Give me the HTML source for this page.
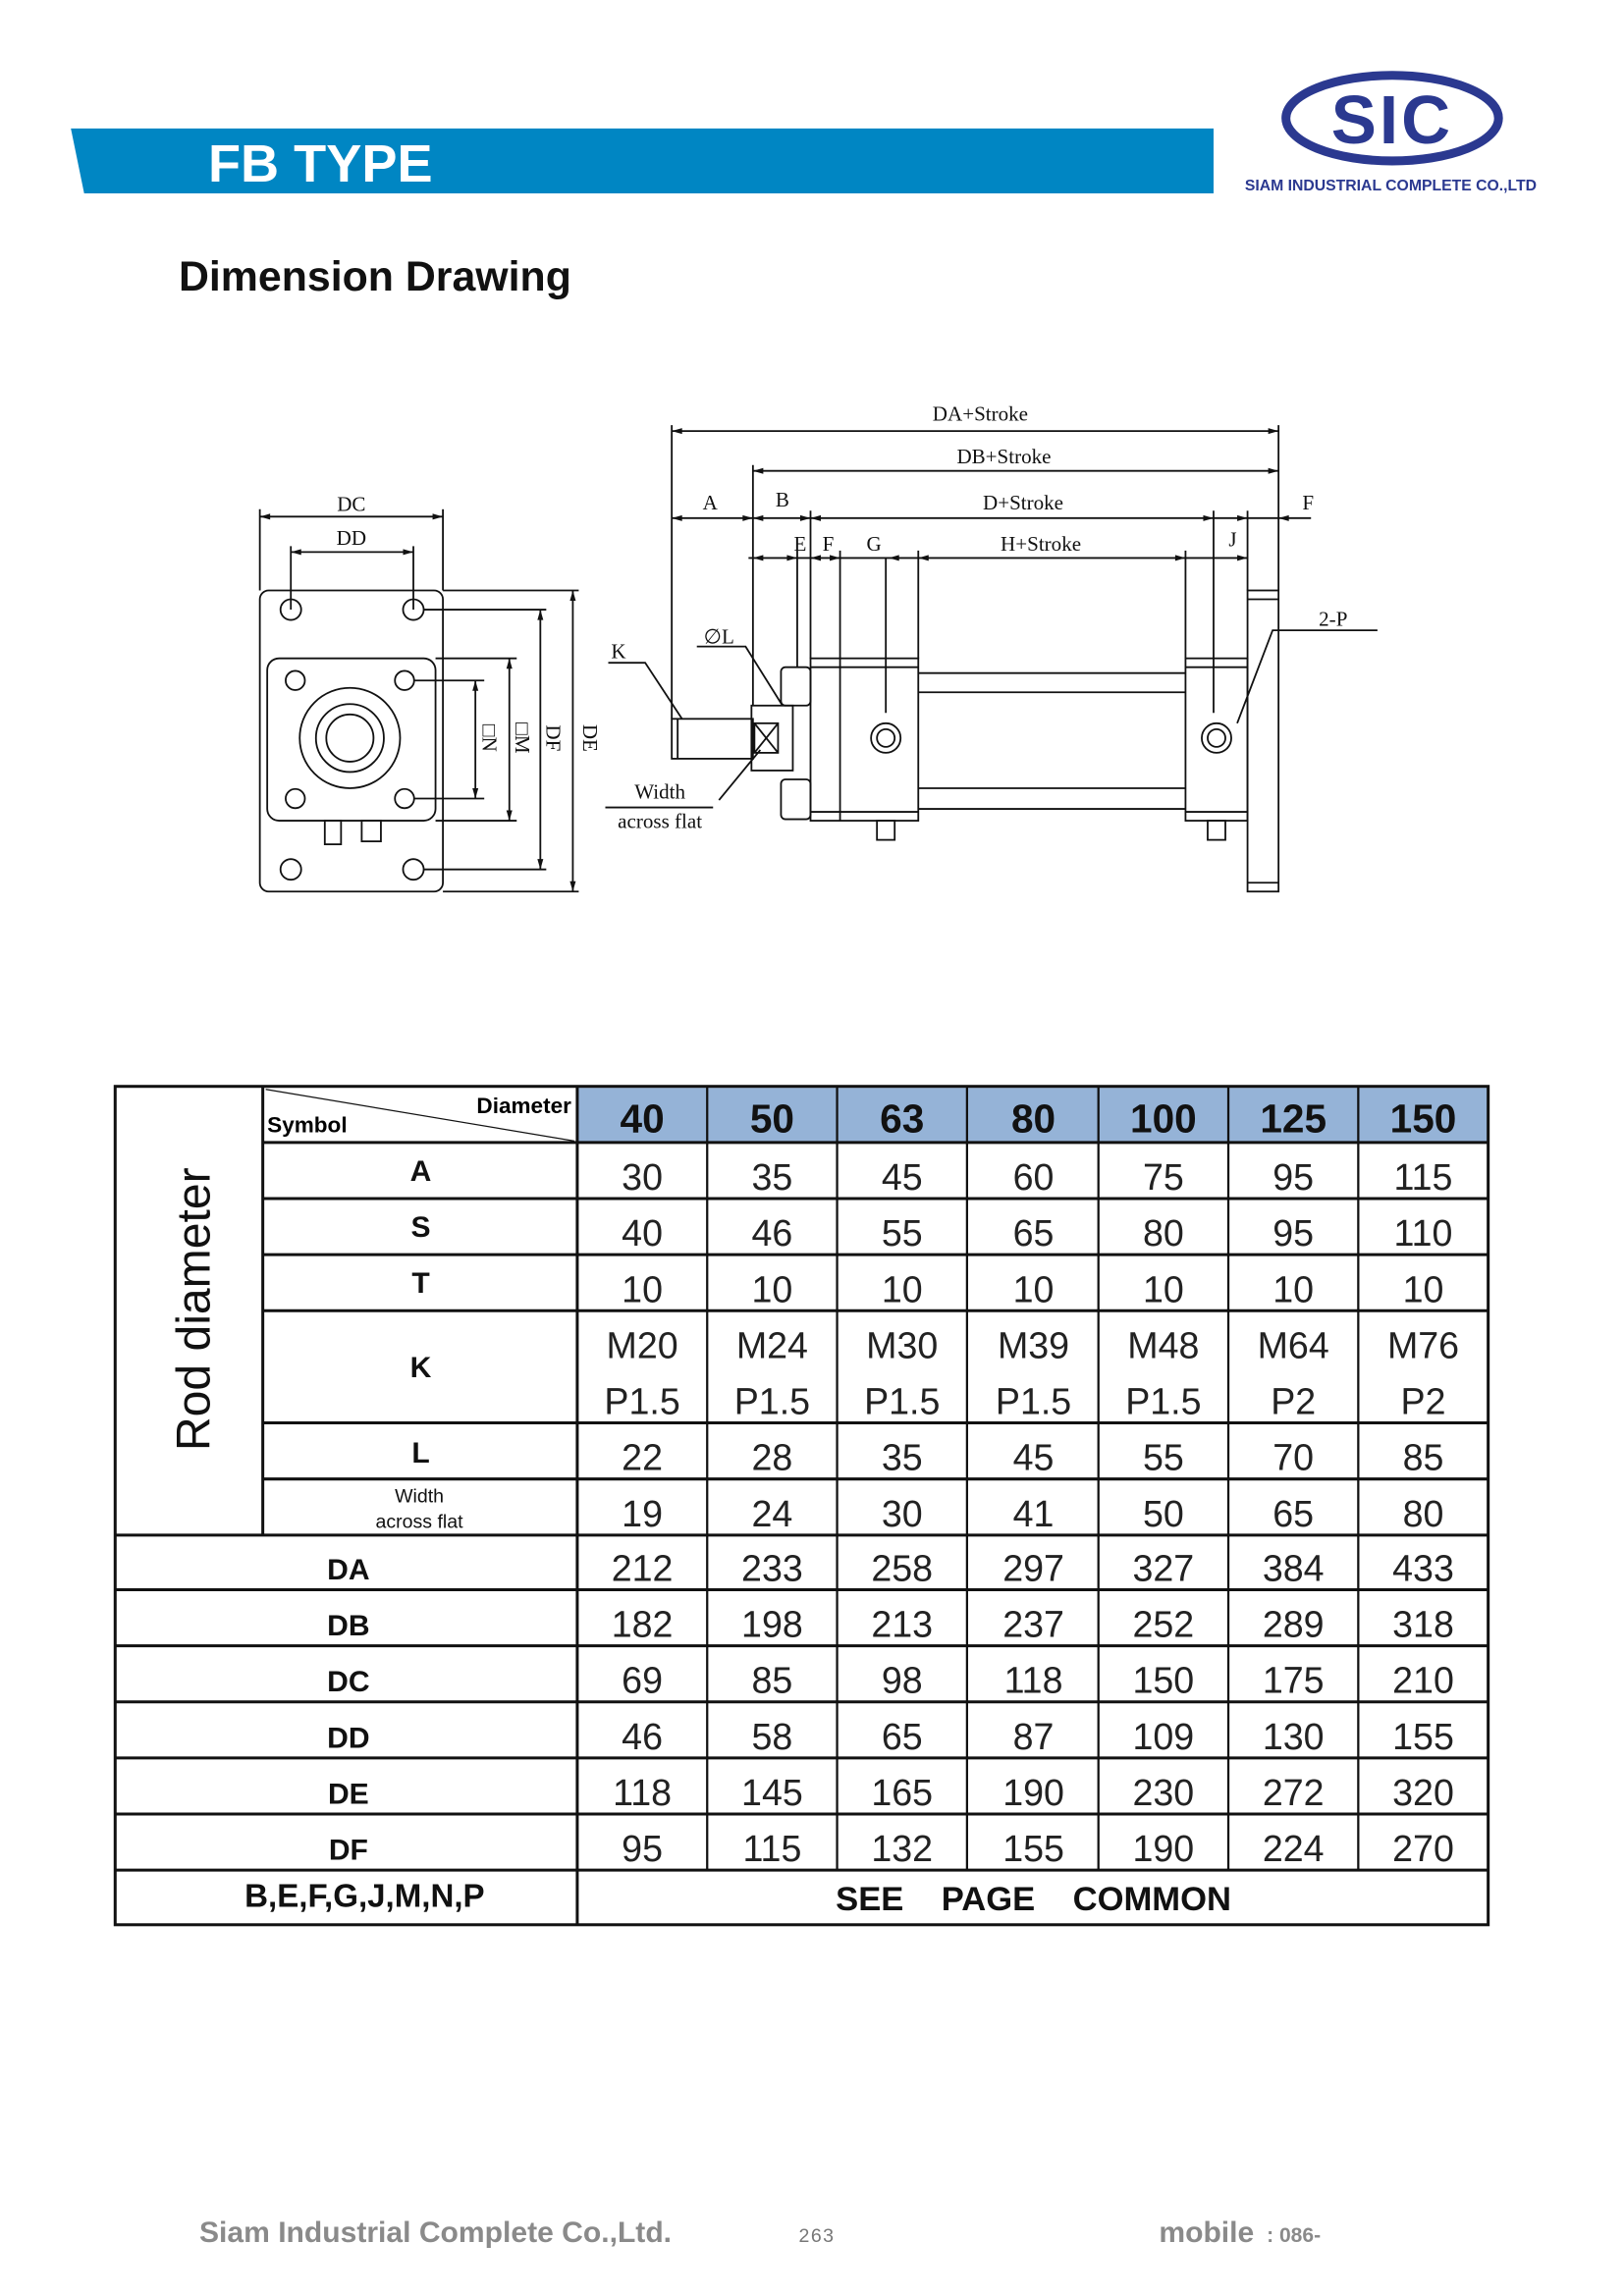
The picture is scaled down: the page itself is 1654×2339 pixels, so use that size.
<!DOCTYPE html>
<html><head><meta charset="utf-8"><style>
html,body{margin:0;padding:0;background:#fff}
svg{display:block}
.s{font-family:"Liberation Serif",serif;font-size:14px;fill:#111}
.v{font-family:"Liberation Sans Narrow","Liberation Sans",sans-serif;font-size:25px;fill:#222;text-anchor:middle}
.h{font-family:"Liberation Sans",sans-serif;font-weight:bold;font-size:20px;fill:#111;text-anchor:middle}
.hd{font-family:"Liberation Sans",sans-serif;font-weight:bold;font-size:27px;fill:#111;text-anchor:middle}
</style></head><body>
<svg width="1654" height="2339" viewBox="0 0 1100 1555.5" xmlns="http://www.w3.org/2000/svg">
<!-- header -->
<polygon points="48,87 822,87 822,131 57,131" fill="#0086c3"/>
<text x="141" y="123" font-family="Liberation Sans Narrow,Liberation Sans,sans-serif" font-weight="bold" font-size="36" fill="#fff">FB TYPE</text>
<ellipse cx="943" cy="80" rx="72" ry="29" fill="none" stroke="#2b3990" stroke-width="6"/>
<text x="943" y="97" text-anchor="middle" font-family="Liberation Sans,sans-serif" font-weight="bold" font-size="46" fill="#2b3990" letter-spacing="2">SIC</text>
<text x="942" y="129" text-anchor="middle" font-family="Liberation Sans Narrow,Liberation Sans,sans-serif" font-weight="bold" font-size="10.5" fill="#2b3990">SIAM INDUSTRIAL COMPLETE CO.,LTD</text>
<text x="121" y="197" font-family="Liberation Sans,sans-serif" font-weight="bold" font-size="28.5" fill="#111">Dimension  Drawing</text>

<!-- drawing -->
<g stroke="#111" stroke-width="1.2" fill="none">
<rect x="176" y="400" width="124" height="204" rx="6"/>
<circle cx="197" cy="413" r="7"/><circle cx="280" cy="413" r="7"/>
<circle cx="197" cy="589" r="7"/><circle cx="280" cy="589" r="7"/>
<rect x="181" y="446" width="114" height="110" rx="8"/>
<circle cx="200" cy="461" r="6.5"/><circle cx="274" cy="461" r="6.5"/>
<circle cx="200" cy="541" r="6.5"/><circle cx="274" cy="541" r="6.5"/>
<circle cx="237" cy="500" r="34"/><circle cx="237" cy="500" r="23"/><circle cx="237" cy="500" r="16"/>
<rect x="220" y="556" width="11" height="16"/><rect x="245" y="556" width="13" height="14"/>
<line x1="176" y1="345" x2="176" y2="400"/><line x1="300" y1="345" x2="300" y2="400"/>
<line x1="176" y1="350" x2="300" y2="350"/>
<line x1="197" y1="370" x2="197" y2="413"/><line x1="280" y1="370" x2="280" y2="413"/>
<line x1="197" y1="374" x2="280" y2="374"/>
<line x1="300" y1="400" x2="392" y2="400"/><line x1="300" y1="604" x2="392" y2="604"/>
<line x1="388" y1="400" x2="388" y2="604"/>
<line x1="287" y1="413" x2="370" y2="413"/><line x1="287" y1="589" x2="370" y2="589"/>
<line x1="366" y1="413" x2="366" y2="589"/>
<line x1="295" y1="446" x2="350" y2="446"/><line x1="295" y1="556" x2="350" y2="556"/>
<line x1="345" y1="446" x2="345" y2="556"/>
<line x1="281" y1="461" x2="328" y2="461"/><line x1="281" y1="541" x2="328" y2="541"/>
<line x1="322" y1="461" x2="322" y2="541"/>
<line x1="455" y1="288" x2="455" y2="487"/>
<line x1="866" y1="288" x2="866" y2="400"/>
<line x1="510" y1="315" x2="510" y2="478"/>
<line x1="540" y1="373" x2="540" y2="452"/>
<line x1="549" y1="346" x2="549" y2="446"/>
<line x1="569" y1="373" x2="569" y2="446"/>
<line x1="622" y1="373" x2="622" y2="446"/>
<line x1="803" y1="373" x2="803" y2="446"/>
<line x1="822" y1="346" x2="822" y2="483"/>
<line x1="845" y1="346" x2="845" y2="400"/>
<line x1="600" y1="378" x2="600" y2="483"/>
<line x1="455" y1="292" x2="866" y2="292"/>
<line x1="510" y1="319" x2="866" y2="319"/>
<line x1="455" y1="351" x2="888" y2="351"/>
<line x1="507" y1="378" x2="845" y2="378"/>
<rect x="549" y="446" width="73" height="110"/>
<line x1="569" y1="446" x2="569" y2="556"/>
<line x1="549" y1="452" x2="622" y2="452"/><line x1="549" y1="550" x2="622" y2="550"/>
<line x1="622" y1="456" x2="803" y2="456"/><line x1="622" y1="469" x2="803" y2="469"/>
<line x1="622" y1="534" x2="803" y2="534"/><line x1="622" y1="548" x2="803" y2="548"/>
<rect x="803" y="446" width="42" height="110"/>
<line x1="803" y1="452" x2="845" y2="452"/><line x1="803" y1="550" x2="845" y2="550"/>
<rect x="845" y="400" width="21" height="204"/>
<line x1="845" y1="406" x2="866" y2="406"/><line x1="845" y1="598" x2="866" y2="598"/>
<circle cx="600" cy="500" r="10"/><circle cx="600" cy="500" r="6"/>
<circle cx="824" cy="500" r="10"/><circle cx="824" cy="500" r="6"/>
<rect x="529" y="452" width="20" height="26" rx="3"/><rect x="529" y="528" width="20" height="27" rx="3"/>
<rect x="509" y="478" width="28" height="44"/>
<line x1="511" y1="490" x2="527" y2="510"/><line x1="527" y1="490" x2="511" y2="510"/>
<rect x="511" y="490" width="16" height="20"/>
<rect x="455" y="487" width="55" height="27"/>
<line x1="459" y1="487" x2="459" y2="514"/>
<rect x="594" y="556" width="12" height="13"/><rect x="818" y="556" width="12" height="13"/>
<polyline points="412,449 437,449 462,487"/>
<polyline points="472,438 505,438 530,478"/>
<line x1="410" y1="547" x2="483" y2="547"/>
<line x1="487" y1="542" x2="515" y2="508"/>
<polyline points="933,427 862,427 838,490"/>
</g>
<g fill="#111">
<polygon points="455,292 462,290 462,294"/><polygon points="866,292 859,290 859,294"/>
<polygon points="510,319 517,317 517,321"/><polygon points="866,319 859,317 859,321"/>
<polygon points="176,350 183,348 183,352"/><polygon points="300,350 293,348 293,352"/>
<polygon points="197,374 204,372 204,376"/><polygon points="280,374 273,372 273,376"/>
<polygon points="388,400 386,407 390,407"/><polygon points="388,604 386,597 390,597"/>
<polygon points="366,413 364,420 368,420"/><polygon points="366,589 364,582 368,582"/>
<polygon points="345,446 343,453 347,453"/><polygon points="345,556 343,549 347,549"/>
<polygon points="322,461 320,468 324,468"/><polygon points="322,541 320,534 324,534"/>
<polygon points="455,351 462,349 462,353"/><polygon points="510,351 503,349 503,353"/><polygon points="510,351 517,349 517,353"/>
<polygon points="549,351 542,349 542,353"/><polygon points="549,351 556,349 556,353"/>
<polygon points="822,351 815,349 815,353"/><polygon points="845,351 838,349 838,353"/><polygon points="866,351 873,349 873,353"/>
<polygon points="510,378 517,376 517,380"/><polygon points="540,378 533,376 533,380"/><polygon points="549,378 556,376 556,380"/>
<polygon points="569,378 562,376 562,380"/><polygon points="602,378 609,376 609,380"/><polygon points="622,378 629,376 629,380"/>
<polygon points="803,378 796,376 796,380"/><polygon points="845,378 838,376 838,380"/>
</g>
<g class="s" text-anchor="middle">
<text x="664" y="285">DA+Stroke</text><text x="680" y="314">DB+Stroke</text>
<text x="481" y="345">A</text><text x="530" y="343">B</text><text x="693" y="345">D+Stroke</text><text x="886" y="345">F</text>
<text x="542" y="373">E</text><text x="561" y="373">F</text><text x="592" y="373">G</text><text x="705" y="373">H+Stroke</text><text x="835" y="370">J</text>
<text x="238" y="346">DC</text><text x="238" y="369">DD</text>
<text x="419" y="446">K</text><text x="487" y="436">∅L</text>
<text x="447" y="541">Width</text><text x="447" y="561">across flat</text>
<text x="903" y="424">2-P</text>
<text transform="translate(327,500) rotate(90)">□N</text>
<text transform="translate(349,500) rotate(90)">□M</text>
<text transform="translate(370,500) rotate(90)">DF</text>
<text transform="translate(395,500) rotate(90)">DE</text>
</g>

<!-- table -->
<rect x="391" y="737" width="617" height="37" fill="#95b3d7"/>
<g stroke="#111" stroke-width="2" fill="none">
<rect x="78" y="736" width="930" height="568"/>
<line x1="178" y1="736" x2="178" y2="1040"/>
<line x1="391" y1="736" x2="391" y2="1304"/>
<g stroke-width="1.5">
<line x1="479" y1="736" x2="479" y2="1267"/><line x1="567" y1="736" x2="567" y2="1267"/>
<line x1="655" y1="736" x2="655" y2="1267"/><line x1="744" y1="736" x2="744" y2="1267"/>
<line x1="832" y1="736" x2="832" y2="1267"/><line x1="920" y1="736" x2="920" y2="1267"/>
</g>
<line x1="178" y1="774" x2="1008" y2="774"/>
<line x1="178" y1="812" x2="1008" y2="812"/>
<line x1="178" y1="850" x2="1008" y2="850"/>
<line x1="178" y1="888" x2="1008" y2="888"/>
<line x1="178" y1="964" x2="1008" y2="964"/>
<line x1="178" y1="1002" x2="1008" y2="1002"/>
<line x1="78" y1="1040" x2="1008" y2="1040"/>
<line x1="78" y1="1077" x2="1008" y2="1077"/>
<line x1="78" y1="1115" x2="1008" y2="1115"/>
<line x1="78" y1="1153" x2="1008" y2="1153"/>
<line x1="78" y1="1191" x2="1008" y2="1191"/>
<line x1="78" y1="1229" x2="1008" y2="1229"/>
<line x1="78" y1="1267" x2="1008" y2="1267"/>
<line x1="180" y1="738" x2="389" y2="773" stroke-width="0.8"/>
</g>
<text x="387" y="754" text-anchor="end" font-family="Liberation Sans,sans-serif" font-weight="bold" font-size="15">Diameter</text>
<text x="181" y="767" font-family="Liberation Sans,sans-serif" font-weight="bold" font-size="15">Symbol</text>
<text transform="translate(142,887) rotate(-90)" text-anchor="middle" font-family="Liberation Sans,sans-serif" font-size="32" fill="#111">Rod diameter</text>
<g class="hd">
<text x="435" y="767">40</text><text x="523" y="767">50</text><text x="611" y="767">63</text><text x="700" y="767">80</text><text x="788" y="767">100</text><text x="876" y="767">125</text><text x="964" y="767">150</text>
</g>
<g class="h">
<text x="285" y="800">A</text><text x="285" y="838">S</text><text x="285" y="876">T</text><text x="285" y="933">K</text><text x="285" y="991">L</text>
<text x="236" y="1070">DA</text><text x="236" y="1108">DB</text><text x="236" y="1146">DC</text><text x="236" y="1184">DD</text><text x="236" y="1222">DE</text><text x="236" y="1260">DF</text>
<text x="247" y="1292" font-size="22">B,E,F,G,J,M,N,P</text>
<text x="700" y="1294" font-size="23" xml:space="preserve">SEE    PAGE    COMMON</text>
</g>
<text x="284" y="1018" text-anchor="middle" font-family="Liberation Sans,sans-serif" font-size="13" fill="#111">Width</text>
<text x="284" y="1035" text-anchor="middle" font-family="Liberation Sans,sans-serif" font-size="13" fill="#111">across flat</text>
<g class="v">
<text x="435" y="806">30</text><text x="523" y="806">35</text><text x="611" y="806">45</text><text x="700" y="806">60</text><text x="788" y="806">75</text><text x="876" y="806">95</text><text x="964" y="806">115</text>
<text x="435" y="844">40</text><text x="523" y="844">46</text><text x="611" y="844">55</text><text x="700" y="844">65</text><text x="788" y="844">80</text><text x="876" y="844">95</text><text x="964" y="844">110</text>
<text x="435" y="882">10</text><text x="523" y="882">10</text><text x="611" y="882">10</text><text x="700" y="882">10</text><text x="788" y="882">10</text><text x="876" y="882">10</text><text x="964" y="882">10</text>
<text x="435" y="920">M20</text><text x="523" y="920">M24</text><text x="611" y="920">M30</text><text x="700" y="920">M39</text><text x="788" y="920">M48</text><text x="876" y="920">M64</text><text x="964" y="920">M76</text>
<text x="435" y="958">P1.5</text><text x="523" y="958">P1.5</text><text x="611" y="958">P1.5</text><text x="700" y="958">P1.5</text><text x="788" y="958">P1.5</text><text x="876" y="958">P2</text><text x="964" y="958">P2</text>
<text x="435" y="996">22</text><text x="523" y="996">28</text><text x="611" y="996">35</text><text x="700" y="996">45</text><text x="788" y="996">55</text><text x="876" y="996">70</text><text x="964" y="996">85</text>
<text x="435" y="1034">19</text><text x="523" y="1034">24</text><text x="611" y="1034">30</text><text x="700" y="1034">41</text><text x="788" y="1034">50</text><text x="876" y="1034">65</text><text x="964" y="1034">80</text>
<text x="435" y="1071">212</text><text x="523" y="1071">233</text><text x="611" y="1071">258</text><text x="700" y="1071">297</text><text x="788" y="1071">327</text><text x="876" y="1071">384</text><text x="964" y="1071">433</text>
<text x="435" y="1109">182</text><text x="523" y="1109">198</text><text x="611" y="1109">213</text><text x="700" y="1109">237</text><text x="788" y="1109">252</text><text x="876" y="1109">289</text><text x="964" y="1109">318</text>
<text x="435" y="1147">69</text><text x="523" y="1147">85</text><text x="611" y="1147">98</text><text x="700" y="1147">118</text><text x="788" y="1147">150</text><text x="876" y="1147">175</text><text x="964" y="1147">210</text>
<text x="435" y="1185">46</text><text x="523" y="1185">58</text><text x="611" y="1185">65</text><text x="700" y="1185">87</text><text x="788" y="1185">109</text><text x="876" y="1185">130</text><text x="964" y="1185">155</text>
<text x="435" y="1223">118</text><text x="523" y="1223">145</text><text x="611" y="1223">165</text><text x="700" y="1223">190</text><text x="788" y="1223">230</text><text x="876" y="1223">272</text><text x="964" y="1223">320</text>
<text x="435" y="1261">95</text><text x="523" y="1261">115</text><text x="611" y="1261">132</text><text x="700" y="1261">155</text><text x="788" y="1261">190</text><text x="876" y="1261">224</text><text x="964" y="1261">270</text>
</g>

<!-- footer -->
<text x="135" y="1519" font-family="Liberation Sans,sans-serif" font-weight="bold" font-size="20" fill="#8a8a8a">Siam Industrial Complete Co.,Ltd.</text>
<text x="541" y="1519" font-family="Liberation Sans,sans-serif" font-size="13" fill="#777" letter-spacing="1">263</text>
<text x="785" y="1519" font-family="Liberation Sans,sans-serif" font-weight="bold" font-size="20" fill="#8a8a8a">mobile</text>
<text x="858" y="1519" font-family="Liberation Sans,sans-serif" font-weight="bold" font-size="14" fill="#8a8a8a">: 086-</text>
</svg>
</body></html>
